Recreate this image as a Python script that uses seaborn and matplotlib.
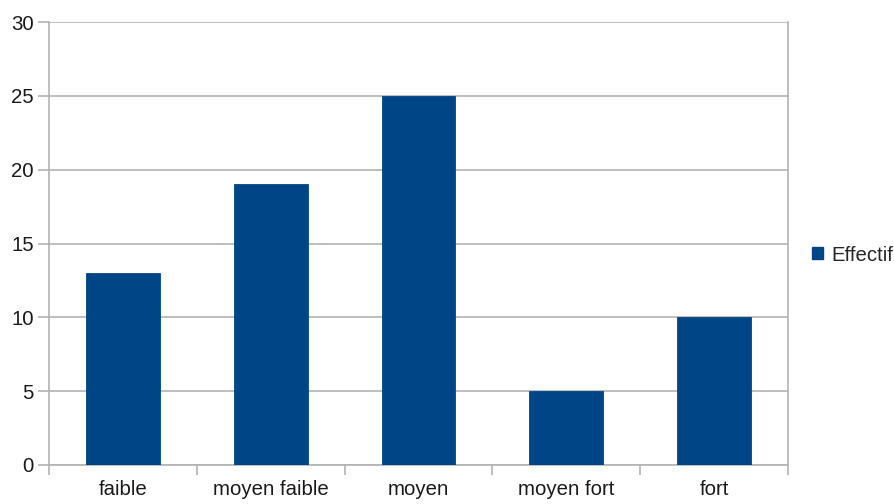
import matplotlib
matplotlib.use("Agg")
import matplotlib.pyplot as plt
from matplotlib.patches import Patch
import seaborn as sns
import pandas as pd

categories = ["faible", "moyen faible", "moyen", "moyen fort", "fort"]
effectif = [13, 19, 25, 5, 10]
series_name = "Effectif"
y_ticks = [0, 5, 10, 15, 20, 25, 30]

bar_color = "#004586"
grid_color = "#b3b3b3"
text_color = "#1a1a1a"
fs = 14.7

sns.set_theme(style="white")
plt.rcParams["font.family"] = ["Liberation Sans", "DejaVu Sans"]

df = pd.DataFrame({"categorie": categories, "effectif": effectif})

W, H = 895, 504
fig = plt.figure(figsize=(W / 100, H / 100), dpi=100)
left, right, top, bottom = 49, 788, 22, 465
ax = fig.add_axes([left / W, (H - bottom) / H, (right - left) / W, (bottom - top) / H])

sns.barplot(data=df, x="categorie", y="effectif", color=bar_color, width=0.5,
            saturation=1, edgecolor=bar_color, linewidth=0.6, ax=ax, zorder=3)

ax.set_xlim(-0.5, len(categories) - 0.5)
ax.set_ylim(0, 30)
ax.set_yticks(y_ticks)
ax.set_xlabel("")
ax.set_ylabel("")

ax.yaxis.grid(True, color=grid_color, linewidth=1.2, zorder=0)
ax.set_axisbelow(True)

for s in ["left", "bottom", "right"]:
    ax.spines[s].set_visible(True)
    ax.spines[s].set_color(grid_color)
    ax.spines[s].set_linewidth(1.2)
ax.spines["top"].set_visible(False)

# category boundaries carry the tick marks, labels sit centred without marks
ax.set_xticks([i - 0.5 for i in range(len(categories) + 1)], minor=True)
ax.tick_params(axis="x", which="minor", length=7, width=1.2, color=grid_color, bottom=True)
ax.tick_params(axis="x", which="major", length=0, pad=11, labelsize=fs, labelcolor=text_color)
ax.tick_params(axis="y", which="major", length=8, width=1.2, color=grid_color, left=True,
               pad=3, labelsize=fs, labelcolor=text_color)

handles = [Patch(facecolor=bar_color, edgecolor=bar_color, label=series_name)]
fig.legend(handles=handles, loc="center left", bbox_to_anchor=(812 / W, 0.494),
           frameon=False, fontsize=fs, handlelength=0.55, handleheight=0.55,
           handletextpad=0.4, borderpad=0, borderaxespad=0)

fig.savefig("out.png", dpi=100)
